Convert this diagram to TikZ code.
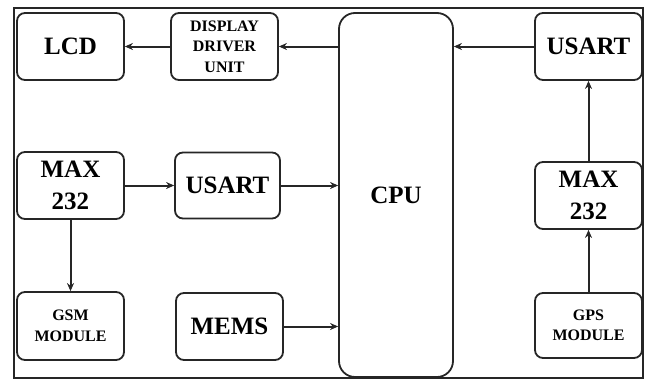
\documentclass[tikz,border=0pt]{standalone}
\usepackage{fontspec}
\setmainfont{Liberation Serif}
\usetikzlibrary{arrows.meta}
\begin{document}
\begin{tikzpicture}[x=1pt,y=-1pt,
  blk/.style={draw=black!85,line width=1.8pt,rounded corners=8pt,inner sep=0pt,align=center,font=\bfseries},
  bigtxt/.style={font=\fontsize{25}{32}\selectfont\bfseries},
  smalltxt/.style={font=\fontsize{16}{20.5}\selectfont\bfseries},
  arr/.style={color=black!85,line width=2pt,-{Stealth[length=8pt,width=7pt]}}]
\useasboundingbox (0,0) rectangle (649,381);
\node[draw=black!85,line width=1.8pt,minimum width=629pt,minimum height=370pt,inner sep=0pt] (frame) at (328.5,193) {};
\node[blk,bigtxt,minimum width=107pt,minimum height=67pt] (lcd) at (70.5,46.5) {LCD};
\node[blk,smalltxt,minimum width=107pt,minimum height=67pt] (ddu) at (224.5,46.5) {DISPLAY\\DRIVER\\UNIT};
\node[blk,bigtxt,rounded corners=16pt,minimum width=114pt,minimum height=364pt] (cpu) at (396,195) {CPU};
\node[blk,bigtxt,minimum width=107pt,minimum height=67pt] (usr) at (588.5,46.5) {USART};
\node[blk,bigtxt,minimum width=107pt,minimum height=67pt] (maxl) at (70.5,185.5) {MAX\\232};
\node[blk,bigtxt,minimum width=105pt,minimum height=66pt] (usm) at (227.5,185.5) {USART};
\node[blk,bigtxt,minimum width=107pt,minimum height=67pt] (maxr) at (588.5,195.5) {MAX\\232};
\node[blk,smalltxt,minimum width=107pt,minimum height=68pt] (gsm) at (70.5,326) {GSM\\MODULE};
\node[blk,bigtxt,minimum width=107pt,minimum height=67pt] (mems) at (229.5,326.5) {MEMS};
\node[blk,smalltxt,minimum width=107pt,minimum height=65pt] (gps) at (588.5,325.5) {GPS\\MODULE};
\draw[arr] (ddu.west) -- (lcd.east);
\draw[arr] (cpu.west |- ddu.east) -- (ddu.east);
\draw[arr] (usr.west) -- (cpu.east |- usr.west);
\draw[arr] (maxl.east) -- (usm.west);
\draw[arr] (usm.east) -- (cpu.west |- usm.east);
\draw[arr] (mems.east) -- (cpu.west |- mems.east);
\draw[arr] (maxl.south) -- (gsm.north);
\draw[arr] (gps.north) -- (maxr.south);
\draw[arr] (maxr.north) -- (usr.south);
\end{tikzpicture}
\end{document}
